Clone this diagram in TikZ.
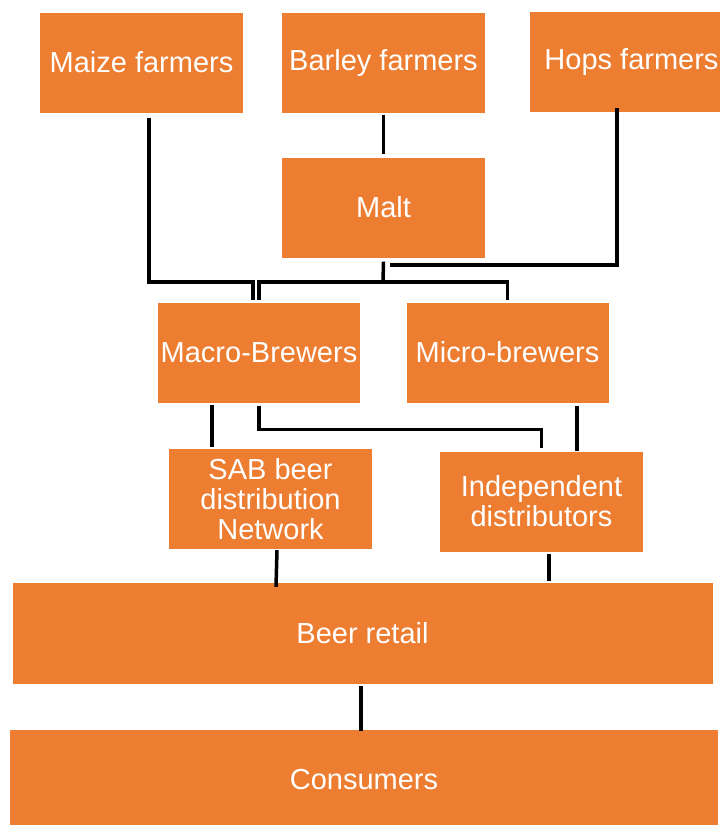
\documentclass[tikz,border=0pt]{standalone}
\usepackage{fontspec}
\setmainfont{Liberation Sans}
\definecolor{chainorange}{RGB}{237,125,49}

\begin{document}
\begin{tikzpicture}[x=1pt,y=-1pt,
   box/.style={fill=chainorange,text=white,inner sep=0pt,align=center,
     minimum width=203pt,minimum height=100pt,font=\fontsize{29}{30}\selectfont},
   link/.style={draw=black,line width=3.5pt}]
\useasboundingbox (0,0) rectangle (720,825);
\node[box] (maize) at (141.5,62.5) {Maize farmers};
\node[box] (barley) at (383.5,62.5) {Barley farmers};
\node[box] (hops) at (631.5,62) {Hops farmers};
\node[box] (malt) at (383.5,207.5) {Malt};
\node[box,minimum width=202pt] (macro) at (259,352.5) {Macro-Brewers};
\node[box,minimum width=202pt] (micro) at (507.5,352.5) {Micro-brewers};
\node[box] (sab) at (270.5,499) {SAB beer\\distribution\\Network};
\node[box] (indep) at (541.5,501.5) {Independent\\distributors};
\node[box,minimum width=700pt,minimum height=101pt] (retail) at (362.5,633.5) {Beer retail};
\node[box,minimum width=708pt] (consumers) at (364,780) {Consumers};
\coordinate (brewsplit) at (383,282);
\coordinate (hopsend) at (390,265);
\draw[link] ([xshift=7.5pt,yshift=-5pt]maize.south) |- (253,282)
   -- ([xshift=-6pt,yshift=2pt]macro.north);
\draw[link] ([yshift=-2pt]barley.south) -- ([yshift=3pt]malt.north);
\draw[link] ([yshift=-4pt]malt.south) -- (brewsplit);
\draw[link] ([yshift=2pt]macro.north) |- (brewsplit) -| ([yshift=2pt]micro.north);
\draw[link] ([xshift=-14.5pt,yshift=4pt]hops.south) |- (hopsend);
\draw[link] ([xshift=-47pt,yshift=-2pt]macro.south) -- ([xshift=-58.5pt,yshift=2pt]sab.north);
\draw[link] ([yshift=-3pt]macro.south) -- ++(0,24) -| ([yshift=3pt]indep.north);
\draw[link] ([xshift=69.5pt,yshift=-3pt]micro.south) -- ([xshift=35.5pt]indep.north);
\draw[link] ([xshift=6.5pt,yshift=-1pt]sab.south) -- ([xshift=-86.5pt,yshift=-4pt]retail.north);
\draw[link] ([xshift=7.5pt,yshift=-2pt]indep.south) -- ([xshift=186.5pt,yshift=2pt]retail.north);
\draw[link] ([xshift=-1.5pt,yshift=-2pt]retail.south) -- ([xshift=-3pt,yshift=-1pt]consumers.north);
\end{tikzpicture}
\end{document}
